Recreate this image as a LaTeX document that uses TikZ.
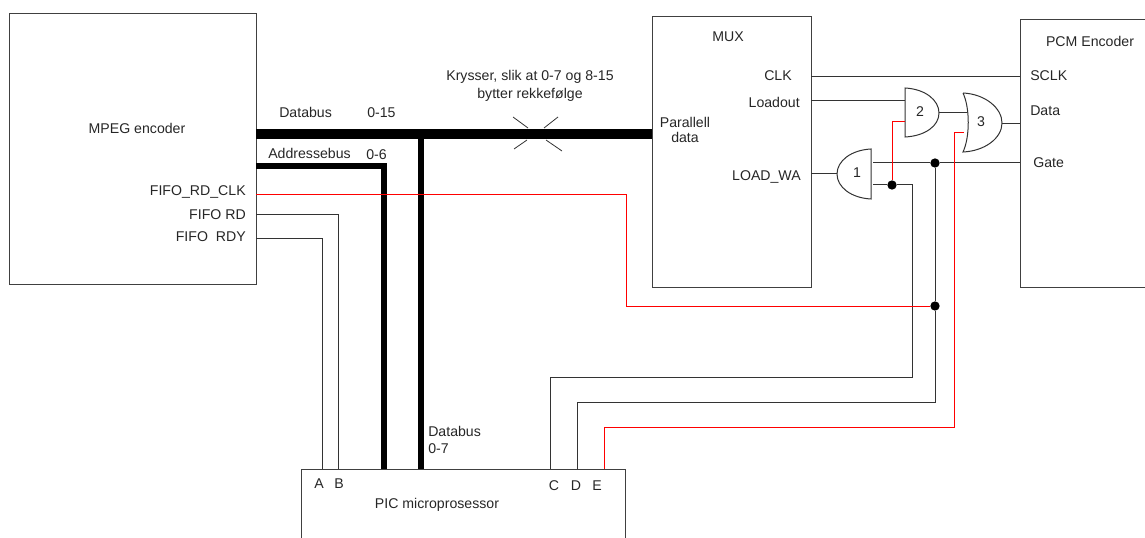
\documentclass[tikz,border=0pt]{standalone}
\usepackage{fontspec}
\setmainfont{Liberation Sans}
\usetikzlibrary{calc}
\tikzset{
  block/.style={draw=black!75,line width=0.75pt,anchor=north west,inner sep=0pt},
  wire/.style={draw=black!80,line width=0.75pt},
  redwire/.style={draw=red,line width=0.75pt},
  bigbus/.style={draw=black,line width=8.2pt},
  smallbus/.style={draw=black,line width=5pt},
  lbl/.style={font=\fontsize{10.6}{11.25}\selectfont,inner sep=0pt,text=black!85},
  gateline/.style={draw=black!80,line width=0.75pt},
  dot/.style={circle,fill=black,inner sep=0pt,minimum size=7pt},
}
\begin{document}
\begin{tikzpicture}[x=0.75pt,y=-0.75pt]
  \useasboundingbox (0,0) rectangle (1145,538);
  % blokkene
  \node[block,minimum width=185.25pt,minimum height=203.25pt] (mpeg) at (9,13) {};
  \node[block,minimum width=119.25pt,minimum height=203.25pt] (mux) at (652,16) {};
  \node[block,minimum width=243pt,minimum height=80pt] (pic) at (301,469) {};
  \node[block,minimum width=100pt,minimum height=201pt] (pcm) at (1020,19) {};
  % portene
  \coordinate (ClkOut) at (811,77);
  \coordinate (LoadOut) at (811,101);
  \coordinate (WaOut) at (811,174);
  \coordinate (Sclk) at (1020,77);
  \coordinate (DataIn) at (1020,124);
  \coordinate (GateIn) at (1020,163);
  \coordinate (BusOut) at (256,134);
  \coordinate (BusIn) at (652,134);
  \coordinate (AddrOut) at (256,166);
  \coordinate (ClkFifo) at (256,194.5);
  \coordinate (RdFifo) at (256,215);
  \coordinate (RdyFifo) at (256,239);
  \coordinate (PinA) at (322,469);
  \coordinate (PinB) at (338,469);
  \coordinate (PinAddr) at (384,469);
  \coordinate (PinData) at (421,469);
  \coordinate (PinC) at (550,469);
  \coordinate (PinD) at (577,469);
  \coordinate (PinE) at (604,469);
  % portene
  \draw[gateline,fill=white] (871,149) .. controls (851,150) and (837,161) .. (837,174)
    .. controls (837,187) and (851,198) .. (871,199) -- cycle;
  \draw[gateline,fill=white] (905,88) .. controls (925,89) and (939,100) .. (939,113)
    .. controls (939,126) and (925,136) .. (905,137) -- cycle;
  \draw[gateline,fill=white] (963,93) .. controls (985,94) and (1002,108) .. (1002,123)
    .. controls (1002,138) and (985,151) .. (963,152) .. controls (970,137) and (970,108) .. (963,93);
  \coordinate (Gate1A) at (837,174);
  \coordinate (Gate1B) at (873,163);
  \coordinate (Gate1C) at (873,185);
  \coordinate (Gate2A) at (905,101);
  \coordinate (Gate2B) at (905,122);
  \coordinate (Gate2Out) at (939,113);
  \coordinate (Gate3A) at (967,113);
  \coordinate (Gate3B) at (964,133);
  \coordinate (Gate3Out) at (1002,124);
  \node[dot] (dot1) at (892,185) {};
  \node[dot] (dot2) at (935,163) {};
  \node[dot] (dot3) at (935,306) {};
  % bussene
  \draw[bigbus] (BusOut) -- (BusIn);
  \draw[smallbus] (AddrOut) -- (384,166) -- (PinAddr);
  \draw[smallbus] (421,134) -- (PinData);
  % kryss
  \draw[wire,line width=0.6pt] (513,117) -- (528,128) (558,117) -- (544,128)
    (514,149) -- (527,140) (562,151) -- (546,140);
  % ledninger
  \draw[wire] (RdFifo) -- (338,215) -- (PinB);
  \draw[wire] (RdyFifo) -- (322,239) -- (PinA);
  \draw[wire] (ClkOut) -- (Sclk);
  \draw[wire] (LoadOut) -- (Gate2A);
  \draw[wire] (WaOut) -- (Gate1A);
  \draw[wire] (Gate2Out) -- (Gate3A);
  \draw[wire] (Gate3Out) -- (DataIn);
  \draw[wire] (Gate1B) -- (dot2) -- (GateIn);
  \draw[wire] (Gate1C) -- (dot1) -- (912,185) -- (912,377) -- (550,377) -- (PinC);
  \draw[wire] (dot2) -- (dot3) -- (935,402) -- (577,402) -- (PinD);
  \draw[redwire] (ClkFifo) -- (626,194.5) -- (626,306) -- (dot3);
  \draw[redwire] (dot1) -- (892,122) -- (Gate2B);
  \draw[redwire] (PinE) -- (604,427) -- (954,427) -- (954,133) -- (Gate3B);
  % tekst
  \node[lbl] (mpeglbl) at (137,128) {MPEG encoder};
  \node[lbl,anchor=east] (clklbl) at (246,192) {FIFO\_RD\_CLK};
  \node[lbl,anchor=east] (rdlbl) at (246,215) {FIFO RD};
  \node[lbl,anchor=east] (rdylbl) at (246,237) {FIFO\ \ RDY};
  \node[lbl,anchor=west] (buslbl) at (279,112) {Databus};
  \node[lbl,anchor=west] (bitslbl) at (367,113) {0-15};
  \node[lbl,anchor=west] (addrlbl) at (268,153) {Addressebus};
  \node[lbl,anchor=west] (addrbits) at (366,155) {0-6};
  \node[lbl,align=center,font=\fontsize{10.6}{13.5}\selectfont] (kryss) at (530,86) {Krysser, slik at 0-7 og 8-15\\bytter rekkefølge};
  \node[lbl,align=left,anchor=west,font=\fontsize{10.6}{13}\selectfont] (dblbl) at (428,440) {Databus\\0-7};
  \node[lbl] (pina) at (319,484) {A};
  \node[lbl] (pinb) at (339,484) {B};
  \node[lbl] (pinc) at (554,486) {C};
  \node[lbl] (pind) at (576,486) {D};
  \node[lbl] (pine) at (597,486) {E};
  \node[lbl] (piclbl) at (437,505) {PIC microprosessor};
  \node[lbl] (muxlbl) at (728,37) {MUX};
  \node[lbl,anchor=east] (clk) at (792,76) {CLK};
  \node[lbl,anchor=east] (load) at (800,102) {Loadout};
  \node[lbl,align=center] (par) at (685,130) {Parallell\\data};
  \node[lbl,anchor=east] (wa) at (801,177) {LOAD\_WA};
  \node[lbl] (pcmlbl) at (1090,41) {PCM Encoder};
  \node[lbl,anchor=west] (sclk) at (1030,76) {SCLK};
  \node[lbl,anchor=west] (data) at (1030,111) {Data};
  \node[lbl,anchor=west] (gatelbl) at (1033,163) {Gate};
  \node[lbl] (gate1) at (857,173) {1};
  \node[lbl] (gate2) at (920,112) {2};
  \node[lbl] (gate3) at (981,122) {3};
\end{tikzpicture}
\end{document}
